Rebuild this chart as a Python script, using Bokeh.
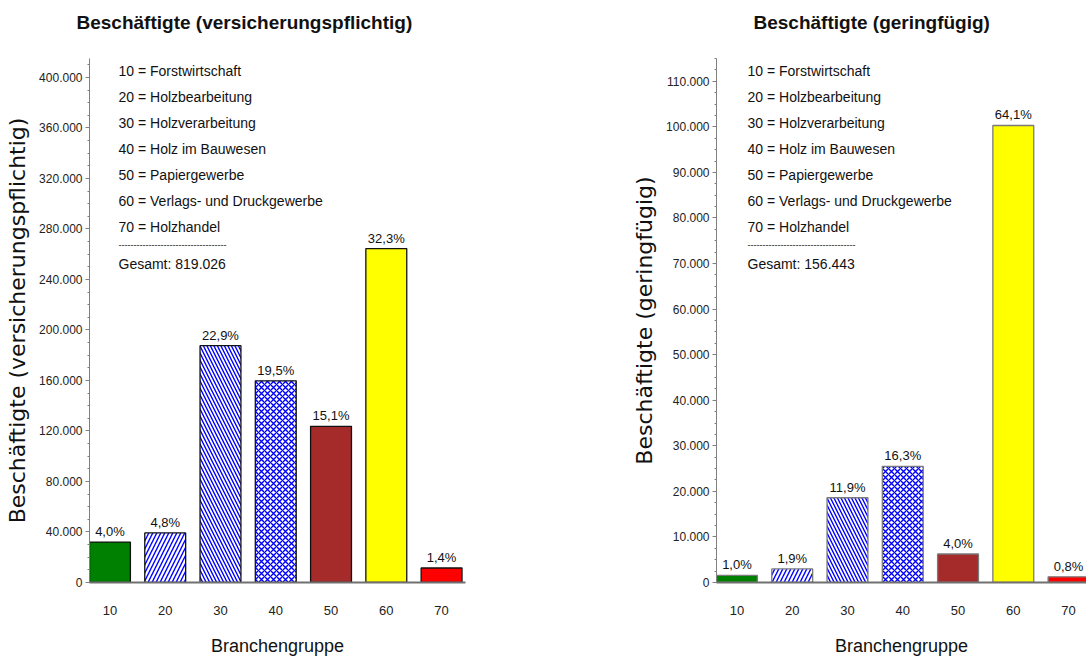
from bokeh.plotting import figure
from bokeh.layouts import row
from bokeh.models import Range1d, FixedTicker, SingleIntervalTicker, CustomJSTickFormatter, ColumnDataSource, Title
from bokeh.core.properties import value
from bokeh.embed import file_html
from bokeh.resources import INLINE

# ---------------- data ----------------
groups = [10, 20, 30, 40, 50, 60, 70]
group_labels = ["10", "20", "30", "40", "50", "60", "70"]

vp_values = [32000, 39300, 187600, 159700, 123700, 264500, 11500]
vp_pct = ["4,0%", "4,8%", "22,9%", "19,5%", "15,1%", "32,3%", "1,4%"]
vp_total = "Gesamt: 819.026"

gf_values = [1560, 2970, 18600, 25500, 6260, 100300, 1250]
gf_pct = ["1,0%", "1,9%", "11,9%", "16,3%", "4,0%", "64,1%", "0,8%"]
gf_total = "Gesamt: 156.443"

legend_lines = [
    "10 = Forstwirtschaft",
    "20 = Holzbearbeitung",
    "30 = Holzverarbeitung",
    "40 = Holz im Bauwesen",
    "50 = Papiergewerbe",
    "60 = Verlags- und Druckgewerbe",
    "70 = Holzhandel",
]
separator = "-" * 36

# ---------------- styles ----------------
fill_colors = ["#008000", "#ffffff", "#ffffff", "#ffffff", "#a52a2a", "#ffff00", "#ff0000"]
hatches = [" ", "/", "\\", "x", " ", " ", " "]
hatch_scales = [8, 8, 7, 6, 8, 8, 8]

NARROW = "Liberation Sans Narrow, Liberation Sans, sans-serif"
WIDE = "DejaVu Sans, sans-serif"

PX_PER_UNIT = 5.527
X0 = 6.3
BAR_W = 7.4
HEIGHT = 660


def make_chart(values, pct, total, title, ylabel, ymax, interval,
               border_left, frame_w, border_right, title_offset, outline, leg_dx):
    width = border_left + frame_w + border_right
    p = figure(width=width, height=HEIGHT,
               x_range=Range1d(X0, X0 + frame_w / PX_PER_UNIT),
               y_range=Range1d(0, ymax),
               output_backend="svg", toolbar_location=None,
               min_border_left=border_left, min_border_right=border_right,
               min_border_top=58, min_border_bottom=HEIGHT - 582)
    p.outline_line_color = None
    p.grid.visible = False
    p.background_fill_color = "white"
    p.border_fill_color = "white"

    src = ColumnDataSource(dict(x=groups, top=values, fill=fill_colors,
                                hatch=hatches, hs=hatch_scales, pct=pct))
    p.vbar(x="x", top="top", bottom=0, width=BAR_W, source=src,
           fill_color="fill", line_color=outline, line_width=1.3,
           hatch_pattern="hatch", hatch_color="#0000ff", hatch_weight=1.4,
           hatch_scale="hs")

    p.text(x="x", y="top", text="pct", source=src, text_align="center",
           text_baseline="bottom", y_offset=-3, text_font=value(NARROW),
           text_font_size="13px", text_color="#111111")

    # legend block (text annotation)
    leg_x = X0 + leg_dx / PX_PER_UNIT
    offs = [12 + 26 * i for i in range(len(legend_lines))]
    p.text(x=[leg_x] * len(legend_lines), y=[ymax] * len(legend_lines),
           text=legend_lines, y_offset=offs, text_baseline="middle",
           text_align="left", text_font=value(NARROW), text_font_size="14px",
           text_color="#111111")
    p.text(x=[leg_x], y=[ymax], text=[separator], y_offset=[186],
           text_baseline="middle", text_align="left", text_font=value(NARROW),
           text_font_size="9px", text_color="#111111")
    p.text(x=[leg_x], y=[ymax], text=[total], y_offset=[205],
           text_baseline="middle", text_align="left", text_font=value(NARROW),
           text_font_size="14px", text_color="#111111")

    # title: spacer first (closest to frame), then the real title
    p.title.text = ""
    p.title.visible = False
    spacer = Title(text=" ", text_font_size="20px", standoff=0)
    p.add_layout(spacer, "above")
    t = Title(text=title, align="left", offset=title_offset,
              text_font=NARROW, text_font_size="19px", text_font_style="bold",
              text_color="#111111", standoff=4)
    p.add_layout(t, "above")

    # y axis
    ya = p.yaxis[0]
    ya.ticker = SingleIntervalTicker(interval=interval, num_minor_ticks=4)
    ya.formatter = CustomJSTickFormatter(
        code="return Math.round(tick).toString().replace(/\\B(?=(\\d{3})+(?!\\d))/g, '.');")
    ya.axis_line_color = "#808080"
    ya.axis_line_width = 1
    ya.major_tick_line_color = "#808080"
    ya.major_tick_out = 4
    ya.major_tick_in = 0
    ya.minor_tick_line_color = "#808080"
    ya.minor_tick_out = 2
    ya.minor_tick_in = 0
    ya.major_label_text_font = NARROW
    ya.major_label_text_font_size = "12px"
    ya.major_label_text_color = "#222222"
    ya.major_label_standoff = 3
    ya.axis_label = ylabel
    ya.axis_label_text_font = WIDE
    ya.axis_label_text_font_size = "22px"
    ya.axis_label_text_font_style = "normal"
    ya.axis_label_text_color = "#111111"
    ya.axis_label_standoff = 6

    # x axis
    xa = p.xaxis[0]
    xa.ticker = FixedTicker(ticks=groups)
    xa.major_label_overrides = {g: l for g, l in zip(groups, group_labels)}
    xa.axis_line_color = "#707070"
    xa.axis_line_width = 2
    xa.major_tick_line_color = None
    xa.minor_tick_line_color = None
    xa.major_label_text_font = NARROW
    xa.major_label_text_font_size = "13px"
    xa.major_label_text_color = "#222222"
    xa.major_label_standoff = 17
    xa.axis_label = "Branchengruppe"
    xa.axis_label_text_font = NARROW
    xa.axis_label_text_font_size = "18px"
    xa.axis_label_text_font_style = "normal"
    xa.axis_label_text_color = "#111111"
    xa.axis_label_standoff = 18
    return p


p1 = make_chart(vp_values, vp_pct, vp_total, "Beschäftigte (versicherungspflichtig)",
                "Beschäftigte (versicherungspflichtig)", 415000, 40000,
                border_left=89, frame_w=376, border_right=135, title_offset=-13,
                outline="#111111", leg_dx=29)
p2 = make_chart(gf_values, gf_pct, gf_total, "Beschäftigte (geringfügig)",
                "Beschäftigte (geringfügig)", 115000, 10000,
                border_left=116, frame_w=370, border_right=0, title_offset=37,
                outline="#7a7a7a", leg_dx=31)

layout = row(p1, p2, spacing=0)
open("out.html", "w").write(file_html(layout, INLINE))
